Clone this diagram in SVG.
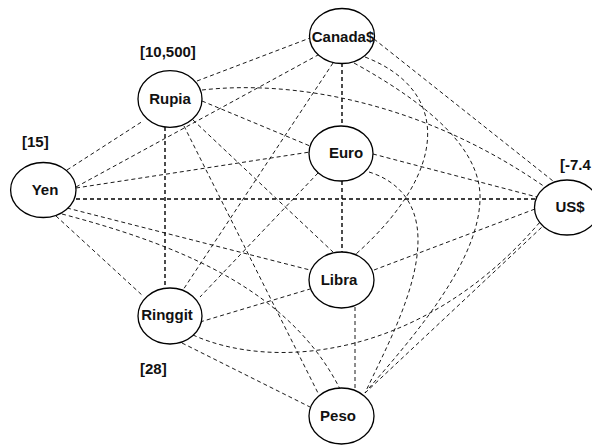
<svg xmlns="http://www.w3.org/2000/svg" width="592" height="445" viewBox="0 0 592 445">
<style>
.e{fill:none;stroke:#000;stroke-width:0.9;stroke-dasharray:4,3}
.b{stroke-width:1.4}
.n ellipse{fill:#fff;stroke:#000;stroke-width:1.3}
text{font-family:"Liberation Sans",Arial,sans-serif;font-weight:bold;font-size:15px;fill:#111}
.n text{text-anchor:middle}
</style>
<rect width="592" height="445" fill="#fff"/>
<g id="connectors">
<!-- Canada$ -->
<line class="e" x1="197" y1="81" x2="310" y2="38"/>
<line class="e" x1="76" y1="187" x2="318" y2="55"/>
<line class="e b" x1="342" y1="63" x2="342" y2="126"/>
<line class="e" x1="374" y1="39" x2="553" y2="181"/>
<line class="e" x1="333" y1="63" x2="183" y2="290"/>
<path class="e" d="M365,57 C450,90 450,170 356,254"/>
<path class="e" d="M354,63 C430,105 482,150 480,200 C478,260 420,330 369,388"/>
<!-- Rupia -->
<line class="e" x1="67" y1="170" x2="143" y2="121"/>
<line class="e" x1="202" y1="101" x2="310" y2="146"/>
<path class="e" d="M202,90 C290,80 420,100 545,187"/>
<line class="e b" x1="165" y1="127" x2="165" y2="288"/>
<line class="e" x1="193" y1="120" x2="333" y2="252"/>
<line class="e" x1="184" y1="126" x2="318" y2="393"/>
<!-- Euro -->
<line class="e" x1="76" y1="188" x2="310" y2="152"/>
<line class="e" x1="373" y1="154" x2="537" y2="197"/>
<line class="e b" x1="342" y1="181" x2="342" y2="252"/>
<line class="e" x1="318" y1="173" x2="200" y2="297"/>
<path class="e" d="M369,172 C395,180 418,200 418,240 C418,290 385,350 365,393"/>
<!-- Yen -->
<line class="e b" x1="76" y1="199" x2="535" y2="199"/>
<line class="e" x1="67" y1="208" x2="310" y2="270"/>
<path class="e" d="M62,214 C180,245 290,290 340,389"/>
<line class="e" x1="56" y1="216" x2="143" y2="296"/>
<!-- US$ -->
<line class="e" x1="374" y1="270" x2="535" y2="209"/>
<path class="e" d="M193,335 C270,370 420,362 540,222"/>
<line class="e" x1="365" y1="393" x2="542" y2="227"/>
<!-- Libra / Ringgit / Peso -->
<line class="e" x1="200" y1="322" x2="310" y2="289"/>
<line class="e" x1="355" y1="307" x2="355" y2="388"/>
<line class="e" x1="182" y1="343" x2="310" y2="407"/>
</g>
<g id="canada" class="n"><ellipse cx="342" cy="36" rx="32.5" ry="27.5"/><text x="343" y="42">Canada$</text></g>
<g id="rupia" class="n"><ellipse cx="170" cy="99" rx="32" ry="28.3"/><text x="170" y="104">Rupia</text></g>
<g id="euro" class="n"><ellipse cx="341" cy="153.5" rx="32" ry="27.5"/><text x="346" y="158">Euro</text></g>
<g id="yen" class="n"><ellipse cx="43.3" cy="190" rx="32.7" ry="27.5"/><text x="45" y="195">Yen</text></g>
<g id="usd" class="n"><ellipse cx="567" cy="207.5" rx="32.5" ry="27.5"/><text x="570" y="212">US$</text></g>
<g id="libra" class="n"><ellipse cx="341.5" cy="280" rx="32.5" ry="28"/><text x="339" y="285">Libra</text></g>
<g id="ringgit" class="n"><ellipse cx="170" cy="316" rx="32" ry="28"/><text x="167" y="320">Ringgit</text></g>
<g id="peso" class="n"><ellipse cx="341.5" cy="416" rx="32.5" ry="28"/><text x="338" y="421">Peso</text></g>
<g id="labels">
<text x="140" y="57">[10,500]</text>
<text x="22" y="147">[15]</text>
<text x="140" y="374">[28]</text>
<text x="560" y="170">[-7.4</text>
</g>
</svg>
